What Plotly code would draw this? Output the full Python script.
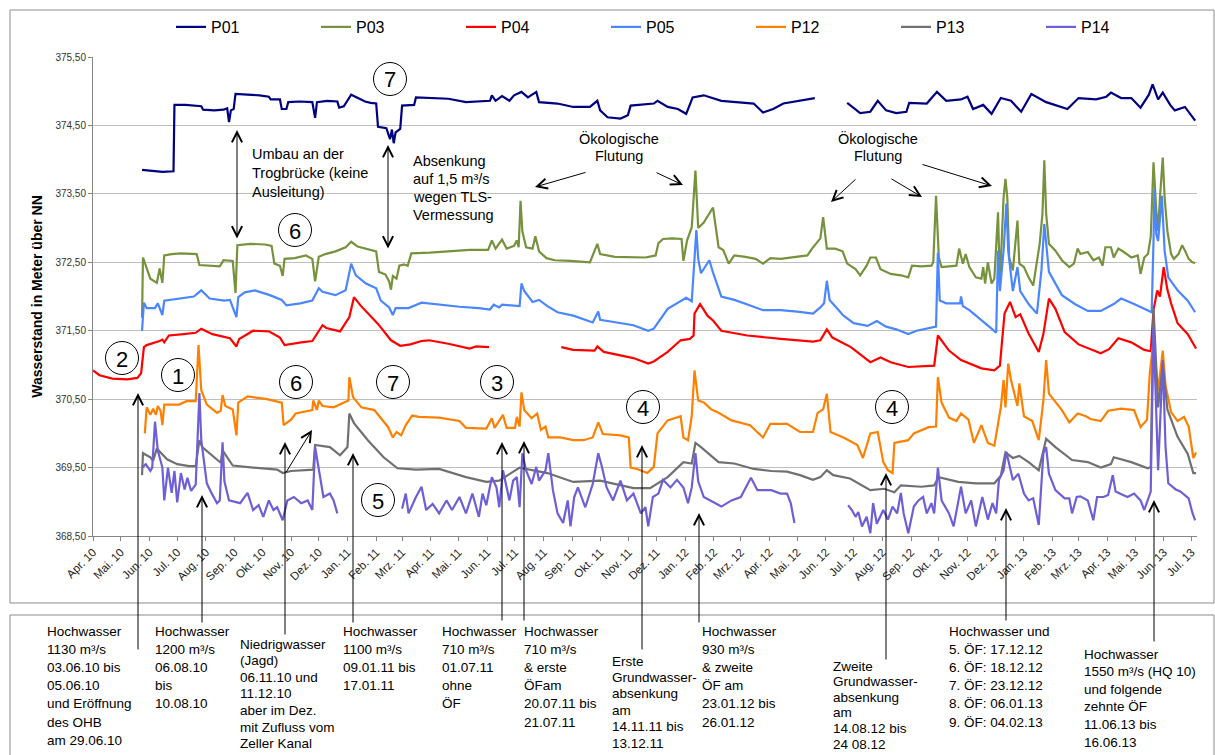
import plotly.graph_objects as go
import pandas as pd

# ---------------- data ----------------
p01 = [("2010-05-24",373.85),("2010-06-05",373.83),("2010-06-15",373.82),("2010-06-27",373.83),("2010-06-28",374.80),
("2010-07-10",374.80),("2010-07-20",374.79),("2010-07-27",374.78),("2010-07-29",374.73),("2010-08-10",374.72),("2010-08-20",374.73),
("2010-08-24",374.75),("2010-08-26",374.55),("2010-08-28",374.72),("2010-08-31",374.74),("2010-09-02",374.96),("2010-09-15",374.95),
("2010-09-28",374.94),("2010-10-08",374.92),("2010-10-10",374.88),("2010-10-20",374.88),("2010-10-22",374.74),("2010-10-27",374.74),
("2010-10-29",374.84),("2010-11-10",374.85),("2010-11-24",374.84),("2010-11-27",374.61),("2010-11-29",374.84),("2010-12-10",374.86),
("2010-12-21",374.85),("2010-12-23",374.76),("2010-12-28",374.78),("2011-01-05",374.95),("2011-01-12",374.90),("2011-01-20",374.85),
("2011-01-26",374.83),("2011-02-01",374.82),("2011-02-03",374.48),("2011-02-12",374.46),("2011-02-16",374.30),("2011-02-18",374.44),
("2011-02-20",374.24),("2011-02-22",374.40),("2011-02-27",374.45),("2011-03-01",374.79),("2011-03-14",374.80),("2011-03-16",374.91),
("2011-04-20",374.89),("2011-05-09",374.84),("2011-06-04",374.86),("2011-06-06",374.94),("2011-06-10",374.86),("2011-06-17",374.93),
("2011-06-25",374.86),("2011-06-30",374.94),("2011-07-08",374.99),("2011-07-15",374.91),("2011-07-24",374.99),("2011-07-27",374.84),
("2011-08-16",374.82),("2011-09-02",374.77),("2011-09-20",374.77),("2011-09-28",374.86),("2011-10-01",374.72),("2011-10-09",374.62),
("2011-10-23",374.60),("2011-10-31",374.65),("2011-11-03",374.79),("2011-11-28",374.82),("2011-12-02",374.86),("2011-12-13",374.77),
("2011-12-24",374.74),("2012-01-02",374.67),("2012-01-09",374.91),("2012-01-21",374.94),("2012-02-09",374.86),("2012-03-01",374.84),
("2012-03-15",374.82),("2012-03-25",374.69),("2012-04-05",374.74),("2012-04-16",374.82),("2012-05-04",374.86),("2012-05-20",374.90),
("2012-06-05",None),("2012-06-24",374.83),("2012-07-08",374.68),("2012-07-19",374.70),("2012-07-27",374.86),("2012-08-05",374.72),
("2012-08-16",374.68),("2012-08-27",374.70),("2012-08-30",374.83),("2012-09-18",374.82),("2012-09-29",374.99),("2012-10-09",374.86),
("2012-10-25",374.88),("2012-11-01",374.92),("2012-11-07",374.74),("2012-11-18",374.80),("2012-11-27",374.67),("2012-12-07",374.90),
("2012-12-18",374.86),("2012-12-29",374.70),("2013-01-09",374.96),("2013-01-25",374.84),("2013-02-17",374.74),("2013-03-01",374.90),
("2013-03-20",374.88),("2013-03-31",374.92),("2013-04-05",374.98),("2013-04-16",374.90),("2013-04-27",374.90),("2013-05-07",374.76),
("2013-05-16",374.95),("2013-05-20",375.10),("2013-05-26",374.88),("2013-05-31",374.98),("2013-06-08",374.80),("2013-06-13",374.72),
("2013-06-24",374.77),("2013-07-05",374.57)]

p03 = [("2010-05-24",371.69),("2010-05-25",372.57),("2010-06-02",372.26),("2010-06-09",372.20),("2010-06-12",372.41),("2010-06-15",372.20),
("2010-06-17",372.60),("2010-06-25",372.62),("2010-07-05",372.63),("2010-07-14",372.63),("2010-07-22",372.62),("2010-07-25",372.46),
("2010-08-05",372.45),("2010-08-16",372.44),("2010-08-20",372.53),("2010-08-30",372.52),("2010-09-02",372.05),("2010-09-04",372.75),
("2010-09-18",372.77),("2010-10-04",372.76),("2010-10-11",372.74),("2010-10-14",372.48),("2010-10-20",372.45),("2010-10-23",372.30),
("2010-10-25",372.55),("2010-11-05",372.56),("2010-11-17",372.60),("2010-11-24",372.55),("2010-11-27",372.22),("2010-12-01",372.58),
("2010-12-08",372.62),("2010-12-19",372.66),("2010-12-30",372.72),("2011-01-05",372.80),("2011-01-12",372.73),("2011-01-26",372.68),
("2011-02-01",372.66),("2011-02-04",372.36),("2011-02-11",372.32),("2011-02-15",372.22),("2011-02-17",372.10),("2011-02-19",372.30),
("2011-02-23",372.26),("2011-02-26",372.45),("2011-03-03",372.47),("2011-03-07",372.45),("2011-03-11",372.63),("2011-03-31",372.64),
("2011-04-21",372.66),("2011-05-13",372.68),("2011-06-02",372.68),("2011-06-06",372.82),("2011-06-10",372.70),("2011-06-17",372.83),
("2011-06-22",372.70),("2011-06-30",372.74),("2011-07-03",372.82),("2011-07-05",372.72),("2011-07-07",373.40),("2011-07-09",372.95),
("2011-07-13",372.72),("2011-07-20",372.70),("2011-07-23",372.88),("2011-07-27",372.66),("2011-08-04",372.56),("2011-08-13",372.53),
("2011-08-30",372.52),("2011-09-20",372.50),("2011-09-28",372.77),("2011-10-01",372.62),("2011-10-17",372.58),("2011-11-03",372.57),
("2011-11-19",372.57),("2011-11-30",372.60),("2011-12-03",372.78),("2011-12-08",372.84),("2011-12-18",372.85),("2011-12-28",372.84),
("2011-12-30",372.52),("2012-01-03",372.82),("2012-01-08",373.01),("2012-01-12",373.84),("2012-01-15",373.00),("2012-01-21",373.08),
("2012-01-31",373.30),("2012-02-06",372.72),("2012-02-11",372.68),("2012-02-17",372.48),("2012-02-23",372.60),("2012-03-06",372.58),
("2012-03-17",372.55),("2012-03-25",372.48),("2012-04-02",372.56),("2012-04-13",372.55),("2012-04-24",372.57),("2012-05-04",372.58),
("2012-05-12",372.60),("2012-05-17",372.70),("2012-05-23",372.79),("2012-05-26",372.85),("2012-05-29",373.16),("2012-06-02",372.70),
("2012-06-11",372.70),("2012-06-19",372.66),("2012-06-24",372.48),("2012-07-03",372.40),("2012-07-08",372.31),("2012-07-15",372.45),
("2012-07-19",372.57),("2012-07-25",372.57),("2012-07-30",372.40),("2012-08-10",372.33),("2012-08-21",372.31),("2012-08-29",372.28),
("2012-09-02",372.45),("2012-09-12",372.44),("2012-09-23",372.45),("2012-09-25",372.50),("2012-09-28",373.47),("2012-10-01",372.57),
("2012-10-04",372.43),("2012-10-20",372.45),("2012-10-23",372.70),("2012-10-27",372.48),("2012-10-30",372.62),("2012-11-03",372.43),
("2012-11-10",372.28),("2012-11-16",372.26),("2012-11-18",372.43),("2012-11-20",372.19),("2012-11-23",372.50),("2012-11-27",372.19),
("2012-11-30",372.26),("2012-12-04",373.23),("2012-12-06",372.19),("2012-12-10",373.45),("2012-12-12",373.72),("2012-12-14",373.45),
("2012-12-16",372.57),("2012-12-20",372.38),("2012-12-25",373.11),("2012-12-27",372.48),("2013-01-01",372.43),("2013-01-06",372.28),
("2013-01-11",372.16),("2013-01-18",372.77),("2013-01-21",373.21),("2013-01-23",373.99),("2013-01-25",373.21),("2013-01-28",372.77),
("2013-02-04",372.67),("2013-02-11",372.53),("2013-02-19",372.43),("2013-02-24",372.48),("2013-02-28",372.70),("2013-03-03",372.62),
("2013-03-11",372.65),("2013-03-17",372.53),("2013-03-23",372.57),("2013-03-27",372.45),("2013-03-30",372.72),("2013-04-05",372.72),
("2013-04-08",372.57),("2013-04-13",372.70),("2013-04-19",372.65),("2013-04-27",372.57),("2013-05-04",372.60),("2013-05-07",372.33),
("2013-05-11",372.57),("2013-05-15",372.62),("2013-05-18",372.87),("2013-05-21",373.96),("2013-05-24",373.26),("2013-05-26",372.96),
("2013-05-28",373.45),("2013-05-31",374.03),("2013-06-02",373.45),("2013-06-05",372.96),("2013-06-09",372.62),("2013-06-12",372.55),
("2013-06-17",372.62),("2013-06-21",372.75),("2013-06-24",372.67),("2013-06-28",372.55),("2013-07-02",372.50),("2013-07-05",372.49)]

p04 = [("2010-04-01",370.92),("2010-04-08",370.85),("2010-04-22",370.80),("2010-05-08",370.79),("2010-05-19",370.81),("2010-05-23",370.88),
("2010-05-26",371.26),("2010-05-29",371.29),("2010-06-12",371.35),("2010-06-15",371.37),("2010-06-17",371.33),("2010-06-22",371.43),
("2010-07-08",371.45),("2010-07-21",371.47),("2010-07-27",371.53),("2010-08-08",371.45),("2010-08-27",371.39),("2010-09-03",371.27),
("2010-09-06",371.38),("2010-09-21",371.50),("2010-10-08",371.49),("2010-10-20",371.40),("2010-10-25",371.29),("2010-11-01",371.31),
("2010-11-12",371.33),("2010-11-24",371.35),("2010-12-05",371.58),("2010-12-09",371.54),("2010-12-24",371.49),("2011-01-03",371.70),
("2011-01-08",371.99),("2011-01-15",371.87),("2011-01-23",371.75),("2011-02-03",371.60),("2011-02-17",371.36),("2011-02-27",371.28),
("2011-03-10",371.30),("2011-03-22",371.35),("2011-03-30",371.36),("2011-04-20",371.31),("2011-05-13",371.24),("2011-05-20",371.27),
("2011-06-03",371.26),("2011-07-20",None),("2011-08-20",371.26),("2011-09-02",371.22),("2011-09-25",371.21),("2011-09-28",371.27),
("2011-10-05",371.19),("2011-11-06",371.10),("2011-11-22",371.02),("2011-11-28",371.05),("2011-12-13",371.19),("2011-12-27",371.36),
("2012-01-06",371.38),("2012-01-10",371.43),("2012-01-11",371.75),("2012-01-17",371.89),("2012-01-25",371.72),("2012-01-31",371.65),
("2012-02-09",371.50),("2012-03-08",371.43),("2012-04-13",371.38),("2012-05-18",371.34),("2012-05-26",371.36),("2012-06-02",371.52),
("2012-06-08",371.40),("2012-06-28",371.26),("2012-07-19",371.04),("2012-07-30",371.11),("2012-08-10",371.04),("2012-08-29",370.97),
("2012-09-26",370.99),("2012-09-30",371.43),("2012-10-12",371.21),("2012-10-25",371.07),("2012-11-16",370.95),("2012-11-30",370.92),
("2012-12-06",370.99),("2012-12-11",371.75),("2012-12-17",371.92),("2012-12-23",371.70),("2012-12-28",371.74),("2013-01-06",371.46),
("2013-01-17",371.19),("2013-01-22",371.45),("2013-01-28",371.97),("2013-02-04",371.82),("2013-02-14",371.48),("2013-03-01",371.30),
("2013-03-25",371.17),("2013-04-03",371.23),("2013-04-13",371.39),("2013-04-27",371.33),("2013-05-11",371.22),("2013-05-18",371.20),
("2013-05-21",371.80),("2013-05-25",372.09),("2013-05-28",372.00),("2013-06-01",372.43),("2013-06-05",372.10),("2013-06-09",371.90),
("2013-06-16",371.61),("2013-06-27",371.45),("2013-07-06",371.24)]

p05 = [("2010-05-24",371.50),("2010-05-26",371.91),("2010-05-29",371.83),("2010-06-07",371.83),("2010-06-10",371.90),("2010-06-15",371.73),
("2010-06-17",371.94),("2010-07-03",371.97),("2010-07-19",372.00),("2010-07-27",372.09),("2010-08-05",371.97),("2010-08-21",371.94),
("2010-08-27",371.95),("2010-09-03",371.70),("2010-09-05",371.99),("2010-09-12",372.06),("2010-09-23",372.09),("2010-10-09",372.02),
("2010-10-22",371.95),("2010-10-27",371.87),("2010-11-11",371.90),("2010-11-24",371.94),("2010-12-01",372.12),("2010-12-05",372.07),
("2010-12-19",372.02),("2010-12-30",372.09),("2011-01-05",372.48),("2011-01-10",372.31),("2011-01-21",372.19),("2011-02-01",372.12),
("2011-02-06",371.94),("2011-02-15",371.84),("2011-02-19",371.73),("2011-02-22",371.83),("2011-03-08",371.83),("2011-03-22",371.91),
("2011-04-10",371.88),("2011-05-02",371.85),("2011-05-23",371.83),("2011-06-04",371.81),("2011-06-08",371.88),("2011-06-14",371.84),
("2011-06-17",371.88),("2011-07-01",371.86),("2011-07-06",371.86),("2011-07-08",372.19),("2011-07-11",372.08),("2011-07-20",371.92),
("2011-07-27",371.95),("2011-08-05",371.86),("2011-08-16",371.77),("2011-09-02",371.72),("2011-09-23",371.62),("2011-09-29",371.78),
("2011-10-01",371.66),("2011-10-19",371.62),("2011-11-06",371.58),("2011-11-22",371.50),("2011-11-28",371.53),("2011-12-13",371.82),
("2011-12-27",371.93),("2012-01-02",371.98),("2012-01-08",371.93),("2012-01-11",372.50),("2012-01-13",372.97),("2012-01-15",372.55),
("2012-01-18",372.34),("2012-01-27",372.53),("2012-01-31",372.35),("2012-02-09",372.00),("2012-02-23",371.95),("2012-03-09",371.88),
("2012-03-25",371.80),("2012-04-13",371.80),("2012-05-01",371.78),("2012-05-18",371.75),("2012-05-26",371.84),("2012-05-30",371.90),
("2012-06-02",372.23),("2012-06-05",371.95),("2012-06-20",371.72),("2012-07-01",371.61),("2012-07-16",371.57),("2012-07-26",371.64),
("2012-08-05",371.56),("2012-08-16",371.52),("2012-08-29",371.45),("2012-09-07",371.50),("2012-09-23",371.55),("2012-09-28",371.56),
("2012-09-30",372.64),("2012-10-02",371.94),("2012-10-09",371.90),("2012-10-24",371.90),("2012-10-25",372.00),("2012-10-27",371.86),
("2012-11-03",371.80),("2012-11-16",371.66),("2012-11-27",371.53),("2012-12-02",371.47),("2012-12-04",372.67),("2012-12-06",372.08),
("2012-12-10",372.67),("2012-12-13",373.36),("2012-12-15",372.67),("2012-12-20",372.08),("2012-12-25",372.43),("2012-12-28",372.08),
("2013-01-06",371.89),("2013-01-15",371.75),("2013-01-20",372.40),("2013-01-23",373.06),("2013-01-25",372.75),("2013-01-28",372.36),
("2013-02-11",372.02),("2013-02-25",371.89),("2013-03-11",371.79),("2013-03-25",371.79),("2013-04-08",371.89),("2013-04-16",371.97),
("2013-04-30",371.89),("2013-05-15",371.80),("2013-05-19",371.77),("2013-05-21",372.81),("2013-05-22",373.57),("2013-05-24",372.91),
("2013-05-26",372.81),("2013-05-30",373.47),("2013-06-02",372.67),("2013-06-06",372.28),("2013-06-16",372.09),("2013-06-27",371.94),
("2013-07-05",371.77)]

p12 = [("2010-05-27",370.00),("2010-05-29",370.38),("2010-06-02",370.27),("2010-06-05",370.36),("2010-06-08",370.27),("2010-06-10",370.40),
("2010-06-13",370.33),("2010-06-15",370.12),("2010-06-17",370.42),("2010-07-03",370.42),("2010-07-11",370.47),("2010-07-21",370.47),
("2010-07-24",371.29),("2010-07-27",370.63),("2010-08-02",370.42),("2010-08-13",370.30),("2010-08-17",370.33),("2010-08-19",370.56),
("2010-08-22",370.40),("2010-08-30",370.35),("2010-09-03",369.97),("2010-09-05",370.45),("2010-09-15",370.54),("2010-10-06",370.50),
("2010-10-22",370.45),("2010-10-24",370.12),("2010-11-01",370.20),("2010-11-06",370.29),("2010-11-24",370.34),("2010-11-25",370.48),
("2010-11-29",370.34),("2010-12-01",370.48),("2010-12-05",370.40),("2010-12-17",370.38),("2011-01-02",370.48),("2011-01-03",370.82),
("2011-01-07",370.53),("2011-01-16",370.38),("2011-01-30",370.34),("2011-02-14",370.09),("2011-02-19",369.94),("2011-02-23",370.02),
("2011-02-28",369.97),("2011-03-05",370.12),("2011-03-12",370.26),("2011-03-19",370.24),("2011-04-10",370.23),("2011-05-02",370.18),
("2011-05-09",370.08),("2011-05-31",370.07),("2011-06-06",370.22),("2011-06-09",370.08),("2011-06-18",370.27),("2011-06-22",370.08),
("2011-07-01",370.08),("2011-07-03",370.24),("2011-07-06",370.10),("2011-07-08",370.60),("2011-07-11",370.34),("2011-07-19",370.22),
("2011-07-25",370.29),("2011-07-29",370.05),("2011-08-03",370.10),("2011-08-06",369.94),("2011-08-19",369.94),("2011-09-02",369.90),
("2011-09-13",369.90),("2011-09-23",369.94),("2011-09-29",370.16),("2011-10-04",369.99),("2011-10-23",369.97),("2011-11-01",369.94),
("2011-11-03",369.50),("2011-11-10",369.48),("2011-11-21",369.42),("2011-11-28",369.51),("2011-12-02",370.00),("2011-12-08",370.10),
("2011-12-13",370.19),("2011-12-27",370.25),("2011-12-30",369.94),("2012-01-04",369.90),("2012-01-08",370.25),("2012-01-11",370.92),
("2012-01-15",370.48),("2012-01-21",370.45),("2012-01-29",370.35),("2012-02-06",370.30),("2012-02-20",370.19),("2012-03-11",370.12),
("2012-03-25",369.94),("2012-04-02",370.14),("2012-04-20",370.14),("2012-05-04",370.02),("2012-05-18",370.02),("2012-05-23",370.30),
("2012-05-29",370.35),("2012-06-02",370.58),("2012-06-06",370.02),("2012-06-20",369.94),("2012-07-05",369.83),("2012-07-11",369.64),
("2012-07-19",370.00),("2012-07-27",370.02),("2012-08-02",369.58),("2012-08-07",369.46),("2012-08-12",369.42),("2012-08-14",369.86),
("2012-08-29",369.90),("2012-09-04",370.00),("2012-09-20",370.09),("2012-09-28",370.10),("2012-09-30",370.82),("2012-10-04",370.45),
("2012-10-12",370.23),("2012-10-20",370.18),("2012-10-25",370.29),("2012-11-02",370.20),("2012-11-08",369.86),("2012-11-16",370.12),
("2012-11-23",369.86),("2012-11-30",369.82),("2012-12-07",370.38),("2012-12-10",370.78),("2012-12-12",370.38),("2012-12-15",371.02),
("2012-12-18",370.78),("2012-12-25",370.40),("2012-12-27",370.73),("2013-01-01",370.25),("2013-01-10",370.18),("2013-01-17",369.90),
("2013-01-22",370.48),("2013-01-25",371.07),("2013-01-28",370.58),("2013-02-11",370.34),("2013-02-19",370.16),("2013-02-28",370.29),
("2013-03-09",370.25),("2013-03-14",370.21),("2013-03-25",370.18),("2013-04-02",370.33),("2013-04-16",370.36),("2013-04-30",370.34),
("2013-05-07",370.09),("2013-05-14",370.20),("2013-05-17",370.88),("2013-05-21",371.36),("2013-05-26",370.63),("2013-05-31",371.21),
("2013-06-03",370.70),("2013-06-09",370.31),("2013-06-16",370.18),("2013-06-23",370.24),("2013-06-28",370.10),("2013-07-03",369.64),
("2013-07-06",369.72)]

p13 = [("2010-05-24",369.39),("2010-05-25",369.71),("2010-06-02",369.65),("2010-06-05",369.60),("2010-06-09",369.78),("2010-06-15",369.70),
("2010-06-20",369.62),("2010-07-01",369.55),("2010-07-14",369.52),("2010-07-21",369.52),("2010-07-25",369.90),("2010-07-28",369.80),
("2010-08-08",369.68),("2010-08-17",369.57),("2010-08-19",369.75),("2010-08-30",369.53),("2010-09-21",369.50),("2010-10-17",369.47),
("2010-10-23",369.42),("2010-11-01",369.45),("2010-11-25",369.47),("2010-11-27",369.83),("2010-12-13",369.80),("2010-12-24",369.68),
("2011-01-01",369.80),("2011-01-03",370.29),("2011-01-08",370.15),("2011-01-23",369.90),("2011-02-09",369.65),("2011-02-24",369.49),
("2011-03-16",369.47),("2011-04-10",369.48),("2011-05-09",369.36),("2011-05-31",369.29),("2011-06-14",369.31),("2011-07-06",369.50),
("2011-08-05",369.42),("2011-09-02",369.29),("2011-10-01",369.31),("2011-10-19",369.26),("2011-11-06",369.20),("2011-11-24",369.20),
("2011-12-13",369.36),("2011-12-30",369.58),("2012-01-08",369.56),("2012-01-12",369.86),("2012-01-18",369.80),("2012-02-06",369.58),
("2012-02-23",369.56),("2012-03-15",369.48),("2012-04-03",369.45),("2012-04-20",369.44),("2012-05-04",369.39),("2012-05-18",369.32),
("2012-05-26",369.36),("2012-06-02",369.46),("2012-06-09",369.39),("2012-06-27",369.34),("2012-07-19",369.17),("2012-08-03",369.19),
("2012-08-14",369.14),("2012-08-21",369.24),("2012-09-12",369.22),("2012-09-26",369.24),("2012-10-01",369.36),("2012-10-22",369.29),
("2012-11-10",369.27),("2012-11-30",369.27),("2012-12-07",369.38),("2012-12-12",369.72),("2012-12-20",369.64),("2012-12-27",369.67),
("2013-01-06",369.58),("2013-01-17",369.46),("2013-01-25",369.92),("2013-02-04",369.80),("2013-02-22",369.61),("2013-03-11",369.58),
("2013-03-25",369.50),("2013-04-05",369.55),("2013-04-08",369.65),("2013-04-27",369.58),("2013-05-15",369.49),("2013-05-18",369.51),
("2013-05-21",371.84),("2013-05-26",370.38),("2013-05-31",371.02),("2013-06-05",370.35),("2013-06-16",369.95),("2013-06-27",369.70),
("2013-07-03",369.42),("2013-07-06",369.42)]

p14 = [("2010-05-24",369.50),("2010-05-28",369.55),("2010-06-02",369.45),("2010-06-04",369.50),("2010-06-07",370.17),("2010-06-10",369.75),
("2010-06-15",369.50),("2010-06-17",369.02),("2010-06-21",369.50),("2010-06-25",369.13),("2010-06-28",369.45),("2010-07-01",368.99),
("2010-07-05",369.42),("2010-07-09",369.18),("2010-07-12",369.35),("2010-07-16",369.16),("2010-07-21",369.25),("2010-07-25",370.59),
("2010-07-27",369.90),("2010-08-02",369.27),("2010-08-07",369.13),("2010-08-13",368.98),("2010-08-16",369.02),("2010-08-19",369.87),
("2010-08-21",369.30),("2010-08-26",369.02),("2010-09-07",368.98),("2010-09-15",369.13),("2010-09-21",368.88),("2010-09-27",368.95),
("2010-10-02",368.78),("2010-10-08",369.02),("2010-10-13",368.88),("2010-10-17",368.92),("2010-10-23",368.73),("2010-10-28",369.02),
("2010-11-04",369.07),("2010-11-12",368.98),("2010-11-19",369.02),("2010-11-24",368.88),("2010-11-27",369.80),("2010-12-01",369.48),
("2010-12-06",369.07),("2010-12-13",369.12),("2010-12-17",369.02),("2010-12-21",368.83),("2011-01-15",None),
("2011-03-01",368.90),("2011-03-05",369.12),("2011-03-08",368.83),("2011-03-16",369.07),("2011-03-22",369.22),("2011-03-27",368.88),
("2011-04-03",368.97),("2011-04-10",368.83),("2011-04-18",369.02),("2011-04-24",368.88),("2011-05-02",369.07),("2011-05-09",368.83),
("2011-05-16",369.12),("2011-05-23",368.78),("2011-05-27",369.12),("2011-05-31",368.95),("2011-06-06",369.36),("2011-06-11",369.21),
("2011-06-14",368.92),("2011-06-18",369.46),("2011-06-25",369.02),("2011-06-29",369.31),("2011-07-03",369.36),("2011-07-06",368.92),
("2011-07-09",369.71),("2011-07-13",369.46),("2011-07-19",369.26),("2011-07-24",369.51),("2011-07-27",369.31),("2011-08-03",369.46),
("2011-08-06",369.71),("2011-08-11",369.17),("2011-08-16",368.83),("2011-08-22",368.69),("2011-08-27",369.02),("2011-08-30",368.64),
("2011-09-03",369.07),("2011-09-07",369.21),("2011-09-15",368.92),("2011-09-23",369.26),("2011-09-29",369.71),("2011-10-03",369.51),
("2011-10-08",369.21),("2011-10-15",369.02),("2011-10-23",369.31),("2011-10-30",369.02),("2011-11-06",369.12),("2011-11-14",368.83),
("2011-11-19",368.92),("2011-11-22",368.64),("2011-11-27",369.07),("2011-12-03",369.12),("2011-12-08",369.32),("2011-12-16",369.21),
("2011-12-23",369.32),("2011-12-30",369.21),("2012-01-04",368.98),("2012-01-08",369.21),("2012-01-12",369.71),("2012-01-15",369.30),
("2012-01-21",369.07),("2012-02-02",368.98),("2012-02-09",368.93),("2012-02-20",369.02),("2012-03-01",369.07),("2012-03-12",369.35),
("2012-03-19",369.17),("2012-04-03",369.17),("2012-04-13",369.12),("2012-04-20",369.12),("2012-04-24",368.98),("2012-04-28",368.69),
("2012-06-01",None),
("2012-06-25",368.95),("2012-06-29",368.88),("2012-07-03",368.78),("2012-07-06",368.85),("2012-07-10",368.64),("2012-07-15",368.78),
("2012-07-19",368.54),("2012-07-22",368.98),("2012-07-26",368.68),("2012-08-02",368.88),("2012-08-07",368.74),("2012-08-12",368.93),
("2012-08-17",368.83),("2012-08-21",369.13),("2012-08-24",368.83),("2012-08-29",368.54),("2012-09-04",368.93),("2012-09-09",369.02),
("2012-09-14",369.07),("2012-09-18",368.83),("2012-09-23",368.98),("2012-09-26",368.83),("2012-09-30",369.50),("2012-10-04",369.02),
("2012-10-12",368.83),("2012-10-17",368.64),("2012-10-21",368.93),("2012-10-25",369.22),("2012-10-30",368.83),("2012-11-05",369.02),
("2012-11-10",368.64),("2012-11-17",369.07),("2012-11-23",368.74),("2012-11-28",368.98),("2012-12-02",368.83),("2012-12-05",369.32),
("2012-12-10",369.46),("2012-12-13",369.73),("2012-12-20",369.32),("2012-12-26",369.41),("2013-01-01",369.12),("2013-01-06",369.02),
("2013-01-11",369.05),("2013-01-17",368.66),("2013-01-22",369.71),("2013-01-25",369.80),("2013-01-28",369.41),("2013-02-04",369.17),
("2013-02-14",369.05),("2013-02-19",369.05),("2013-02-22",368.83),("2013-02-27",369.07),("2013-03-03",369.08),("2013-03-11",369.02),
("2013-03-17",368.73),("2013-03-21",369.07),("2013-03-28",369.07),("2013-04-02",369.10),("2013-04-07",369.39),("2013-04-10",369.15),
("2013-04-18",369.10),("2013-04-23",369.07),("2013-04-30",369.12),("2013-05-07",369.02),("2013-05-11",368.88),("2013-05-15",369.05),
("2013-05-18",369.15),("2013-05-21",371.55),("2013-05-26",369.46),("2013-05-31",371.07),("2013-06-03",369.80),("2013-06-06",369.27),
("2013-06-14",369.18),("2013-06-19",369.15),("2013-06-24",369.10),("2013-06-28",369.05),("2013-07-02",368.84),("2013-07-05",368.73)]

series_names = ["P01", "P03", "P04", "P05", "P12", "P13", "P14"]
series_data = [p01, p03, p04, p05, p12, p13, p14]
series_colors = ["#000080", "#76923C", "#FF0000", "#4A86FF", "#FF8000", "#707070", "#6E5FD6"]

month_abbr = ["Jan.", "Feb.", "Mrz.", "Apr.", "Mai.", "Jun.", "Jul.", "Aug.", "Sep.", "Okt.", "Nov.", "Dez."]
tick_dates = pd.date_range("2010-04-01", "2013-07-01", freq="MS")
tick_labels = [f"{month_abbr[d.month - 1]} {d.year % 100:02d}" for d in tick_dates]

# ---------------- layout helpers (pixel positions -> paper) ----------------
W, H = 1215, 755
PL, PR, PT, PB = 93, 1197, 57, 536
FONT = "Liberation Sans, Arial, sans-serif"


def px(x):
    return (x - PL) / (PR - PL)


def py(y):
    return (PB - y) / (PB - PT)


fig = go.Figure()
for name, data, color in zip(series_names, series_data, series_colors):
    fig.add_trace(go.Scatter(
        x=[d for d, _ in data], y=[v for _, v in data], mode="lines", name=name,
        line=dict(color=color, width=2.2), connectgaps=False))

annotations = []
shapes = []


def text_block(x, y0, lines, size, spacing, anchor="left"):
    for i, t in enumerate(lines):
        annotations.append(dict(
            xref="paper", yref="paper", x=px(x), y=py(y0 + i * spacing), text=t,
            showarrow=False, xanchor=anchor, yanchor="middle",
            font=dict(size=size, color="#000000", family=FONT)))


def arrow(tip, tail, both=False):
    annotations.append(dict(
        xref="paper", yref="paper", x=px(tip[0]), y=py(tip[1]), text="",
        showarrow=True, ax=tail[0] - tip[0], ay=tail[1] - tip[1],
        axref="pixel", ayref="pixel", arrowhead=5, arrowsize=2.0, arrowwidth=1,
        startarrowhead=5, startarrowsize=2.0, arrowcolor="#000000",
        arrowside="end+start" if both else "end"))


def circled(cx, cy, label):
    r = 16.5
    shapes.append(dict(type="circle", xref="paper", yref="paper",
                       x0=px(cx - r), x1=px(cx + r), y0=py(cy + r), y1=py(cy - r),
                       line=dict(color="#000000", width=1)))
    annotations.append(dict(xref="paper", yref="paper", x=px(cx), y=py(cy + 1), text=label,
                            showarrow=False, xanchor="center", yanchor="middle",
                            font=dict(size=22, color="#000000", family=FONT)))


# frames
shapes.append(dict(type="rect", xref="paper", yref="paper", x0=px(10), x1=px(1214), y0=py(603), y1=py(10),
                   line=dict(color="#8C8C8C", width=1), layer="below"))
shapes.append(dict(type="rect", xref="paper", yref="paper", x0=px(10), x1=px(1214), y0=py(770), y1=py(615),
                   line=dict(color="#8C8C8C", width=1), layer="below"))

# circled labels
for cx, cy, lab in [(390, 79, "7"), (295, 230, "6"), (122, 358, "2"), (178, 375, "1"), (296, 382, "6"),
                    (393, 382, "7"), (497, 382, "3"), (643, 407, "4"), (378, 500, "5"), (892, 407, "4")]:
    circled(cx, cy, lab)

# in-chart texts
text_block(250, 154, ["Umbau an der", "Trogbrücke (keine", "Ausleitung)"], 14.5, 19)
text_block(411, 161, ["Absenkung", "auf 1,5 m³/s", "wegen TLS-", "Vermessung"], 14.5, 18)
text_block(619, 138, ["Ökologische", "Flutung"], 14.5, 18, anchor="center")
text_block(878, 138, ["Ökologische", "Flutung"], 14.5, 18, anchor="center")

# in-chart arrows
arrow((237, 130), (237, 240), both=True)
arrow((388, 145), (388, 250), both=True)
arrow((535, 187), (587, 172))
arrow((683, 185), (655, 172))
arrow((831, 202), (857, 178))
arrow((922, 197), (890, 178))
arrow((992, 186), (921, 164))

# event arrows from the bottom box
arrow((138, 393), (138, 651))
arrow((202, 495), (202, 624))
arrow((285, 442), (285, 636))
arrow((312, 430), (285, 474))
arrow((353, 453), (353, 624))
arrow((502, 442), (502, 622))
arrow((524, 441), (524, 622))
arrow((642, 445), (642, 651))
arrow((699, 513), (699, 624))
arrow((886, 473), (886, 661))
arrow((1006, 508), (1006, 622))
arrow((1154, 500), (1154, 643))

# bottom box texts
BS, SP = 13.5, 18.2
text_block(45, 631, ["Hochwasser", "1130 m³/s", "03.06.10 bis", "05.06.10", "und Eröffnung", "des OHB", "am 29.06.10"], BS, SP)
text_block(153, 631, ["Hochwasser", "1200 m³/s", "06.08.10", "bis", "10.08.10"], BS, SP)
text_block(238, 644, ["Niedrigwasser", "(Jagd)", "06.11.10 und", "11.12.10", "aber im Dez.", "mit Zufluss vom", "Zeller Kanal"], BS, 16.6)
text_block(341, 631, ["Hochwasser", "1100 m³/s", "09.01.11 bis", "17.01.11"], BS, SP)
text_block(440, 631, ["Hochwasser", "710 m³/s", "01.07.11", "ohne", "ÖF"], BS, SP)
text_block(522, 631, ["Hochwasser", "710 m³/s", "& erste", "ÖFam", "20.07.11 bis", "21.07.11"], BS, SP)
text_block(610, 661, ["Erste", "Grundwasser-", "absenkung", "am", "14.11.11 bis", "13.12.11"], BS, 16.4)
text_block(700, 631, ["Hochwasser", "930 m³/s", "& zweite", "ÖF am", "23.01.12 bis", "26.01.12"], BS, SP)
text_block(831, 666, ["Zweite", "Grundwasser-", "absenkung", "am", "14.08.12 bis", "24 08.12"], BS, 15.6)
text_block(947, 631, ["Hochwasser und", "5. ÖF: 17.12.12", "6. ÖF: 18.12.12", "7. ÖF: 23.12.12",
                      "8. ÖF: 06.01.13", "9. ÖF: 04.02.13"], BS, SP)
text_block(1082, 654, ["Hochwasser", "1550 m³/s (HQ 10)", "und folgende", "zehnte ÖF", "11.06.13 bis", "16.06.13"], BS, 17.6)

fig.update_layout(
    template="none",
    width=W, height=H,
    margin=dict(l=PL, r=W - PR, t=PT, b=H - PB, pad=0, autoexpand=False),
    paper_bgcolor="white", plot_bgcolor="white",
    separators=",.",
    font=dict(family=FONT, color="#000000"),
    showlegend=True,
    legend=dict(orientation="h", xref="container", yref="container", x=171 / W, xanchor="left",
                y=1 - 27 / H, yanchor="middle",
                font=dict(size=16, family=FONT, color="#000000"), entrywidth=100, entrywidthmode="pixels",
                itemwidth=30, bgcolor="rgba(0,0,0,0)", traceorder="normal"),
    xaxis=dict(type="date", range=["2010-04-01", "2013-07-07"], tickvals=list(tick_dates), ticktext=tick_labels,
               tickangle=-45, ticks="outside", ticklen=4, tickcolor="#868686", showline=True, linecolor="#868686",
               linewidth=1, showgrid=False, zeroline=False, automargin=False,
               tickfont=dict(size=11.5, color="#222222", family=FONT)),
    yaxis=dict(range=[368.5, 375.5], tick0=368.5, dtick=1, tickformat=".2f", ticks="outside", ticklen=4,
               tickcolor="#868686", showline=True, linecolor="#868686", linewidth=1, showgrid=True,
               gridcolor="#BFBFBF", gridwidth=1, zeroline=False, automargin=False,
               tickfont=dict(size=10, color="#333333", family=FONT),
               title=dict(text="<b>Wasserstand in Meter über NN</b>", font=dict(size=14, family=FONT, color="#000000"),
                          standoff=9)),
    annotations=annotations,
    shapes=shapes,
)

fig.write_html("out.html", config={"displayModeBar": False},
               post_script="document.body.style.margin='0';document.body.style.overflow='hidden';")
